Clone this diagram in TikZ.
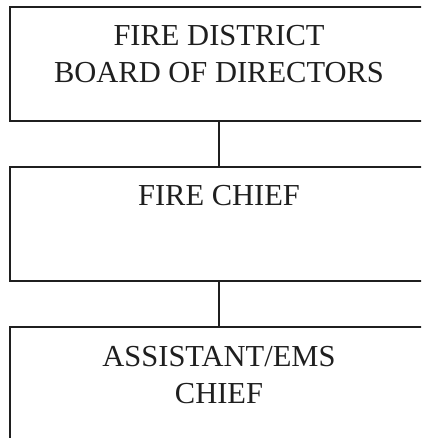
\documentclass[tikz,border=0pt]{standalone}
\usepackage{fontspec}
\setmainfont{Liberation Serif}
\begin{document}
\begin{tikzpicture}[x=1pt,y=-1pt,
  box/.style={draw=black!88, line width=1.8pt, minimum width=418pt, minimum height=114pt, inner sep=0pt, outer sep=0pt},
  txt/.style={anchor=north, align=center, inner sep=0pt, text=black!88, font=\fontsize{30.5}{37}\selectfont},
  link/.style={draw=black!88, line width=1.8pt}]
\useasboundingbox (0,0) rectangle (421,438);
\clip (0,0) rectangle (421,438);
\node[box] (b1) at (219,64) {};
\node[box] (b2) at (219,224) {};
\node[box] (b3) at (219,384) {};
\node[txt] (t1) at ([yshift=-18pt]b1.north) {FIRE DISTRICT\\BOARD OF DIRECTORS};
\node[txt] (t2) at ([yshift=-18pt]b2.north) {FIRE CHIEF};
\node[txt] (t3) at ([yshift=-19pt]b3.north) {ASSISTANT/EMS\\CHIEF};
\draw[link] (b1.south) -- (b2.north);
\draw[link] (b2.south) -- (b3.north);
\end{tikzpicture}
\end{document}
